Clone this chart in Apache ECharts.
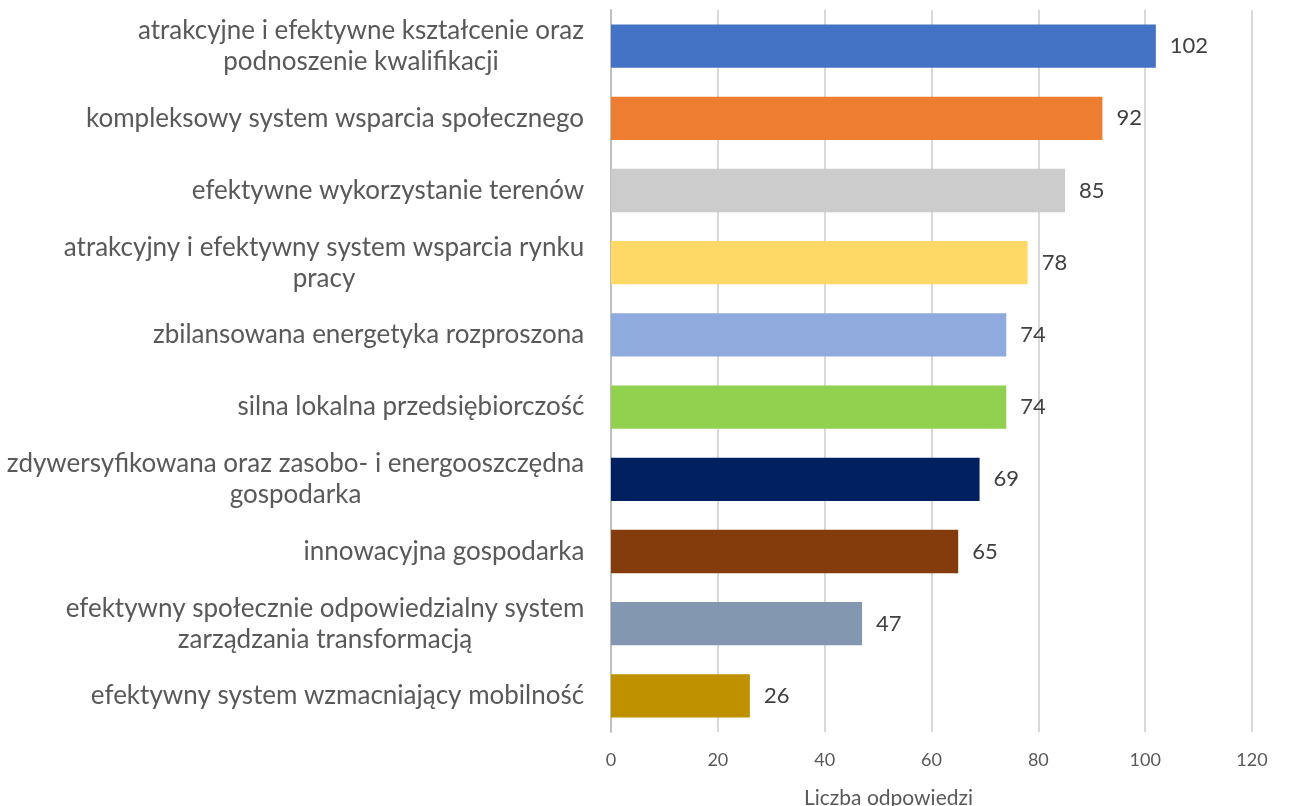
<!DOCTYPE html>
<html>
<head>
<meta charset="utf-8">
<script src="https://cdn.jsdelivr.net/npm/echarts@6/dist/echarts.min.js"></script>
<style>
  html, body { margin: 0; padding: 0; background: #fff; }
  #chart { width: 1292px; height: 806px; }
</style>
</head>
<body>
<div id="chart"></div>
<script>
var categories = [
    'atrakcyjne i efektywne kształcenie oraz\npodnoszenie kwalifikacji',
    'kompleksowy system wsparcia społecznego',
    'efektywne wykorzystanie terenów',
    'atrakcyjny i efektywny system wsparcia rynku\npracy',
    'zbilansowana energetyka rozproszona',
    'silna lokalna przedsiębiorczość',
    'zdywersyfikowana oraz zasobo- i energooszczędna\ngospodarka',
    'innowacyjna gospodarka',
    'efektywny społecznie odpowiedzialny system\nzarządzania transformacją',
    'efektywny system wzmacniający mobilność'
];
var values = [102, 92, 85, 78, 74, 74, 69, 65, 47, 26];
var colors = ['#4472C4', '#ED7D31', '#CDCCCC', '#FFD966', '#8FAADC',
              '#92D050', '#002060', '#843C0C', '#8497B0', '#BF9000'];
var xTicks = [0, 20, 40, 60, 80, 100, 120];

var fontName = 'Lato';
var font = 'Lato, "Open Sans", sans-serif';

// size category labels so the widest single line is about as wide as in the original
var ctx = document.createElement('canvas').getContext('2d');
ctx.font = '100px ' + fontName;
var catSize = Math.round(491 / ctx.measureText('kompleksowy system wsparcia społecznego').width * 100);
ctx.font = catSize + 'px ' + fontName;

// each label: lines centred among themselves, block right-aligned to the axis
var rich = {};
categories.forEach(function (c, k) {
    var w = 0;
    c.split('\n').forEach(function (line) {
        w = Math.max(w, ctx.measureText(line).width);
    });
    rich['c' + k] = {
        width: Math.ceil(w) + 1, align: 'center',
        color: '#595959', fontSize: catSize, fontFamily: font, lineHeight: 31
    };
});

var chart = echarts.init(document.getElementById('chart'));

var option = {
    animation: false,
    grid: { left: 611, right: 40, top: 10, bottom: 74, outerBoundsMode: 'none' },
    xAxis: {
        type: 'value',
        min: xTicks[0],
        max: xTicks[xTicks.length - 1],
        interval: 20,
        name: 'Liczba odpowiedzi',
        nameLocation: 'middle',
        nameGap: 56,
        nameTextStyle: { color: '#595959', fontSize: 21, fontFamily: font, padding: [0, 86, 0, 0] },
        axisLine: { show: false },
        axisTick: { show: false },
        axisLabel: { color: '#595959', fontSize: 18, fontFamily: font, margin: 19 },
        splitLine: { lineStyle: { color: '#D9D9D9', width: 2 } }
    },
    yAxis: {
        type: 'category',
        data: categories,
        inverse: true,
        axisLine: { lineStyle: { color: '#BFBFBF', width: 2 } },
        axisTick: { show: false },
        axisLabel: {
            margin: 26, align: 'right',
            formatter: function (v, k) {
                return v.split('\n').map(function (line) {
                    return '{c' + k + '|' + line + '}';
                }).join('\n');
            },
            rich: rich
        }
    },
    series: [{
        type: 'bar',
        data: values.map(function (v, k) {
            return { value: v, itemStyle: { color: colors[k] } };
        }),
        barWidth: '60%',
        label: {
            show: true, position: 'right', distance: 14,
            color: '#404040', fontSize: 22, fontFamily: font
        }
    }]
};
chart.setOption(option);
</script>
</body>
</html>
